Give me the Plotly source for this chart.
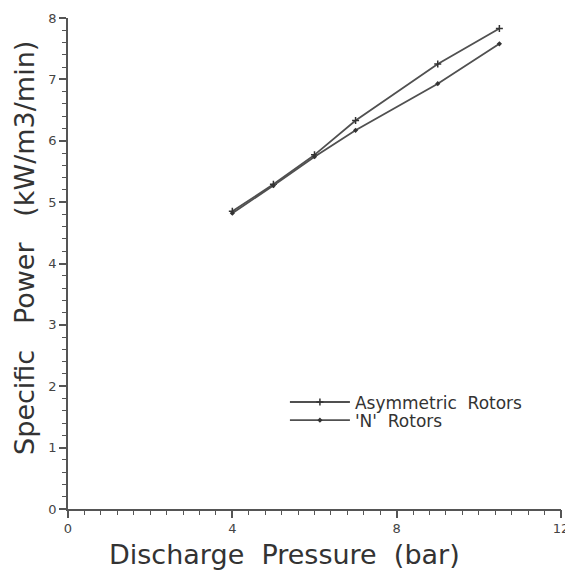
import plotly.graph_objects as go

pressure = [4, 5, 6, 7, 9, 10.5]
asym_power = [4.85, 5.29, 5.77, 6.33, 7.25, 7.83]
n_power = [4.82, 5.27, 5.74, 6.17, 6.93, 7.58]
series_names = ["Asymmetric  Rotors", "'N'  Rotors"]
x_title = "Discharge  Pressure  (bar)"
y_title = "Specific   Power   (kW/m3/min)"

fig = go.Figure()
fig.add_trace(go.Scatter(x=pressure, y=asym_power, mode="lines+markers", name=series_names[0],
                         legend="legend",
                         line=dict(color="#505050", width=1.8),
                         marker=dict(symbol="cross-thin", size=5, color="#333",
                                     line=dict(color="#333", width=1.5))))
fig.add_trace(go.Scatter(x=pressure, y=n_power, mode="lines+markers", name=series_names[1],
                         legend="legend2",
                         line=dict(color="#505050", width=1.8),
                         marker=dict(symbol="diamond", size=4, color="#333")))
# invisible trace carrying the minor-tick axes
fig.add_trace(go.Scatter(x=pressure, y=n_power, mode="markers", xaxis="x2", yaxis="y2",
                         marker=dict(opacity=0), showlegend=False, hoverinfo="skip"))

axis_font = dict(family="DejaVu Sans", size=13, color="#444")
title_font = dict(family="DejaVu Sans", size=27, color="#333")
leg_font = dict(family="DejaVu Sans", size=17, color="#333")
common = dict(showgrid=False, zeroline=False, automargin=False, tickcolor="#555")
fig.update_layout(
    width=565, height=568,
    margin=dict(l=60, r=12, t=10, b=67, autoexpand=False),
    plot_bgcolor="white", paper_bgcolor="white",
    showlegend=True,
    legend=dict(x=0.44, y=0.217, xanchor="left", yanchor="middle", bgcolor="rgba(0,0,0,0)",
                font=leg_font, itemwidth=60),
    legend2=dict(x=0.44, y=0.180, xanchor="left", yanchor="middle", bgcolor="rgba(0,0,0,0)",
                 font=leg_font, itemwidth=60),
    xaxis=dict(range=[0, 12], tickmode="linear", dtick=4, tick0=0,
               showline=True, linecolor="#555", linewidth=1.5,
               ticks="outside", ticklen=7, tickwidth=1.5, tickfont=axis_font, **common),
    yaxis=dict(range=[0, 8], tickmode="linear", dtick=1, tick0=0,
               showline=True, linecolor="#555", linewidth=1.5,
               ticks="outside", ticklen=7, tickwidth=1.5, tickfont=axis_font, **common),
    xaxis2=dict(range=[0, 12], overlaying="x", side="bottom", anchor="y", tickmode="linear",
                tick0=0, dtick=0.4, ticks="outside", ticklen=5, tickwidth=1.2,
                showticklabels=False, showline=False, **common),
    yaxis2=dict(range=[0, 8], overlaying="y", side="left", anchor="x", tickmode="linear",
                tick0=0, dtick=0.2, ticks="outside", ticklen=5, tickwidth=1.2,
                showticklabels=False, showline=False, **common),
    annotations=[
        dict(text=x_title, xref="paper", yref="paper", x=0.44, y=-0.093,
             xanchor="center", yanchor="middle", showarrow=False, font=title_font),
        dict(text=y_title, xref="paper", yref="paper", x=-0.087, y=0.532,
             xanchor="center", yanchor="middle", showarrow=False, font=title_font,
             textangle=-90),
    ],
)
fig.write_html("out.html")
